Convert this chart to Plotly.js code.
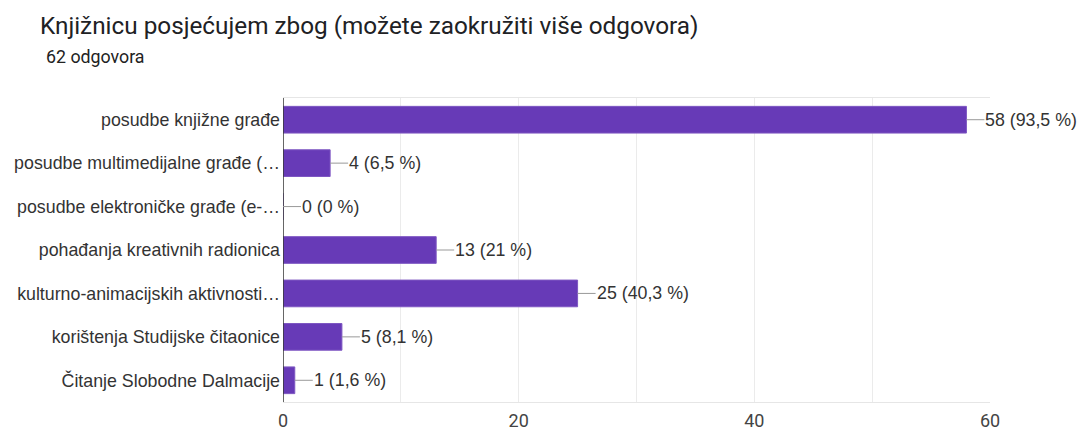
<!DOCTYPE html>
<html>
<head>
<meta charset="utf-8">
<script src="https://cdn.plot.ly/plotly-3.0.1.min.js"></script>
<style>html,body{margin:0;padding:0;background:#fff;}#chart{width:1079px;height:430px;}</style>
</head>
<body>
<div id="chart"></div>
<script>
const categories = [
  "posudbe knjižne građe",
  "posudbe multimedijalne građe (…",
  "posudbe elektroničke građe (e-…",
  "pohađanja kreativnih radionica",
  "kulturno-animacijskih aktivnosti…",
  "korištenja Studijske čitaonice",
  "Čitanje Slobodne Dalmacije"
];
const counts = [58, 4, 0, 13, 25, 5, 1];
const percentLabels = ["93,5 %", "6,5 %", "0 %", "21 %", "40,3 %", "8,1 %", "1,6 %"];
const xTicks = [0, 20, 40, 60];
const titleText = "Knjižnicu posjećujem zbog (možete zaokružiti više odgovora)";
const subtitleText = "62 odgovora";

const labelFont = {family: "Arial, 'Liberation Sans', sans-serif", size: 17.8, color: "#333"};

const annotations = counts.map((v, i) => ({
  x: v, y: categories[i], xref: "x", yref: "y",
  text: v + " (" + percentLabels[i] + ")",
  showarrow: true, arrowhead: 0, arrowwidth: 1, arrowcolor: "#999",
  ax: 18, ay: 0, standoff: 0, startstandoff: 0,
  xanchor: "left", yanchor: "middle", borderpad: 0,
  font: labelFont
}));
annotations.push({
  xref: "paper", yref: "paper", x: (44 - 283) / 707, y: 1 + 41/304,
  xanchor: "left", yanchor: "middle", showarrow: false,
  text: subtitleText,
  font: {family: "Roboto, sans-serif", size: 17.8, color: "#222"}
});

const trace = {
  type: "bar", orientation: "h",
  x: counts, y: categories,
  marker: {color: "#673ab7", line: {color: "#7e57c2", width: 1}},
  hoverinfo: "none"
};

const layout = {
  width: 1079, height: 430,
  margin: {l: 283, r: 89, t: 98, b: 28, pad: 0},
  paper_bgcolor: "#fff", plot_bgcolor: "#fff",
  bargap: 0.385,
  showlegend: false,
  title: {
    text: titleText, x: 40/1079, xanchor: "left", xref: "container",
    y: 1 - 25/430, yanchor: "middle", yref: "container",
    font: {family: "Roboto, sans-serif", size: 24.3, color: "#202124"}
  },
  xaxis: {
    range: [0, 60], tickvals: xTicks, ticktext: xTicks.map(String),
    showgrid: true, gridcolor: "#ebebeb", gridwidth: 1,
    minor: {dtick: 10, tick0: 0, showgrid: true, gridcolor: "#ebebeb", gridwidth: 1},
    zeroline: false, showline: true, mirror: true, linecolor: "#e6e6e6",
    ticks: "", ticklen: 0, ticklabelstandoff: 2,
    tickfont: {family: "Roboto, sans-serif", size: 18, color: "#444"},
    fixedrange: true
  },
  yaxis: {
    autorange: "reversed", type: "category",
    showgrid: false, zeroline: false, showline: false,
    ticks: "", ticklabelstandoff: 2,
    tickfont: labelFont,
    fixedrange: true
  },
  shapes: [{
    type: "line", xref: "x", yref: "paper", x0: 0, x1: 0, y0: 0, y1: 1,
    line: {color: "#333", width: 1.5}
  }],
  annotations: annotations
};

Plotly.newPlot("chart", [trace], layout, {displayModeBar: false, staticPlot: true});
</script>
</body>
</html>
